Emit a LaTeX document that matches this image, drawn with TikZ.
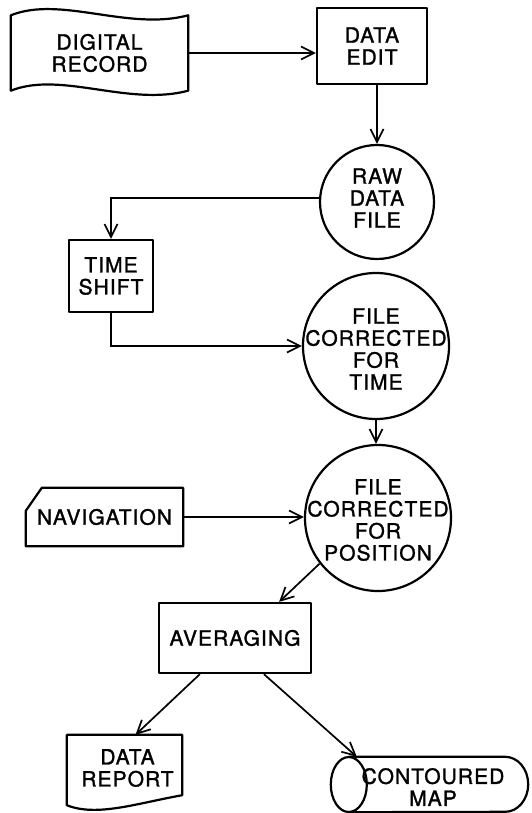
\documentclass[tikz,border=0pt]{standalone}
\usepackage{fontspec}
\newfontfamily\lettering{TeX Gyre Heros}[LetterSpace=5,FakeBold=1.4]
\usetikzlibrary{arrows.meta,calc}
\begin{document}
\begin{tikzpicture}[x=1pt,y=-1pt,
  lab/.style={font=\lettering\fontsize{21}{22}\selectfont, align=center, inner sep=0pt},
  outline/.style={draw=black, line width=2.2pt, line join=round},
  box/.style={lab, outline, rectangle},
  plain/.style={lab, rectangle},
  circ/.style={outline, circle, inner sep=0pt},
  conn/.style={draw=black, line width=1.7pt, -{Straight Barb[length=13pt,width=13pt]}}]
\useasboundingbox (0,0) rectangle (531,813);

% nodes
\node[plain, minimum width=177pt, minimum height=75pt] (dr) at (99.5,53) {DIGITAL\\RECORD};
\node[box, minimum width=110pt, minimum height=76pt] (de) at (372,46) {DATA\\EDIT};
\node[circ, minimum size=114pt] (rdf) at (377,202) {};
\node[lab] (rdft) at ($(rdf.center)+(0,-4)$) {RAW\\DATA\\FILE};
\node[box, minimum width=84pt, minimum height=72pt] (ts) at (111,276) {TIME\\SHIFT};
\node[circ, minimum size=146pt] (fct) at (376,346) {};
\node[lab] (fctt) at ($(fct.center)+(0,3)$) {FILE\\CORRECTED\\FOR\\TIME};
\node[circ, minimum size=146pt] (fcp) at (378,518) {};
\node[lab] (fcpt) at ($(fcp.center)+(0,2)$) {FILE\\CORRECTED\\FOR\\POSITION};
\node[plain, minimum width=157pt, minimum height=58pt] (nav) at (104.5,517) {NAVIGATION};
\node[box, minimum width=152pt, minimum height=70pt] (avg) at (235,638) {AVERAGING};
\node[plain, minimum width=115pt, minimum height=60pt] (drep) at (124.5,765) {};
\node[lab] (drept) at ($(drep.center)+(3,3)$) {DATA\\REPORT};
\node[plain, minimum width=197pt, minimum height=55pt] (cm) at (429.5,784.5) {};
\node[lab] (cmt) at (433,787) {CONTOURED\\MAP};

% special outlines
\draw[outline] (dr.north west) .. controls +(50,-20) and +(-60,16) .. (dr.north east)
  -- (dr.south east) .. controls +(-60,16) and +(50,-20) .. (dr.south west) -- cycle;
\draw[outline] ($(nav.north west)+(0,23)$) -- ($(nav.north west)+(16,0)$) -- (nav.north east)
  -- (nav.south east) -- (nav.south west) -- cycle;
\draw[outline] (drep.north west) -- (drep.north east) -- (drep.south east)
  .. controls +(-45,8) and +(30,12) .. ($(drep.south west)+(0,10)$) -- cycle;
\draw[outline] ($(cm.west)+(18,0)$) ellipse [x radius=18pt, y radius=27.5pt];
\draw[outline] ($(cm.north west)+(18,0)$) -- ($(cm.north east)+(-23,0)$)
  arc[start angle=90, end angle=-90, x radius=23pt, y radius=27.5pt]
  -- ($(cm.south west)+(18,0)$);

% connectors
\draw[conn] (dr.east) -- (dr.east -| de.west);
\draw[conn] (rdf.north |- de.south) -- (rdf.north);
\draw[conn] (rdf.176) -| (ts.north);
\draw[conn] (ts.south) |- (fct.west);
\draw[conn] (fct.south) -- (fct.south |- fcp.north);
\draw[conn] (nav.east) -- (nav.east -| fcp.west);
\draw[conn] (fcp.218) -- ($(avg.north east)+(-33,0)$);
\draw[conn] ($(avg.south west)+(42,0)$) -- ($(drep.north)+(11,0)$);
\draw[conn] ($(avg.south west)+(106,0)$) -- ($(cm.north west)+(26,0)$);
\end{tikzpicture}
\end{document}
